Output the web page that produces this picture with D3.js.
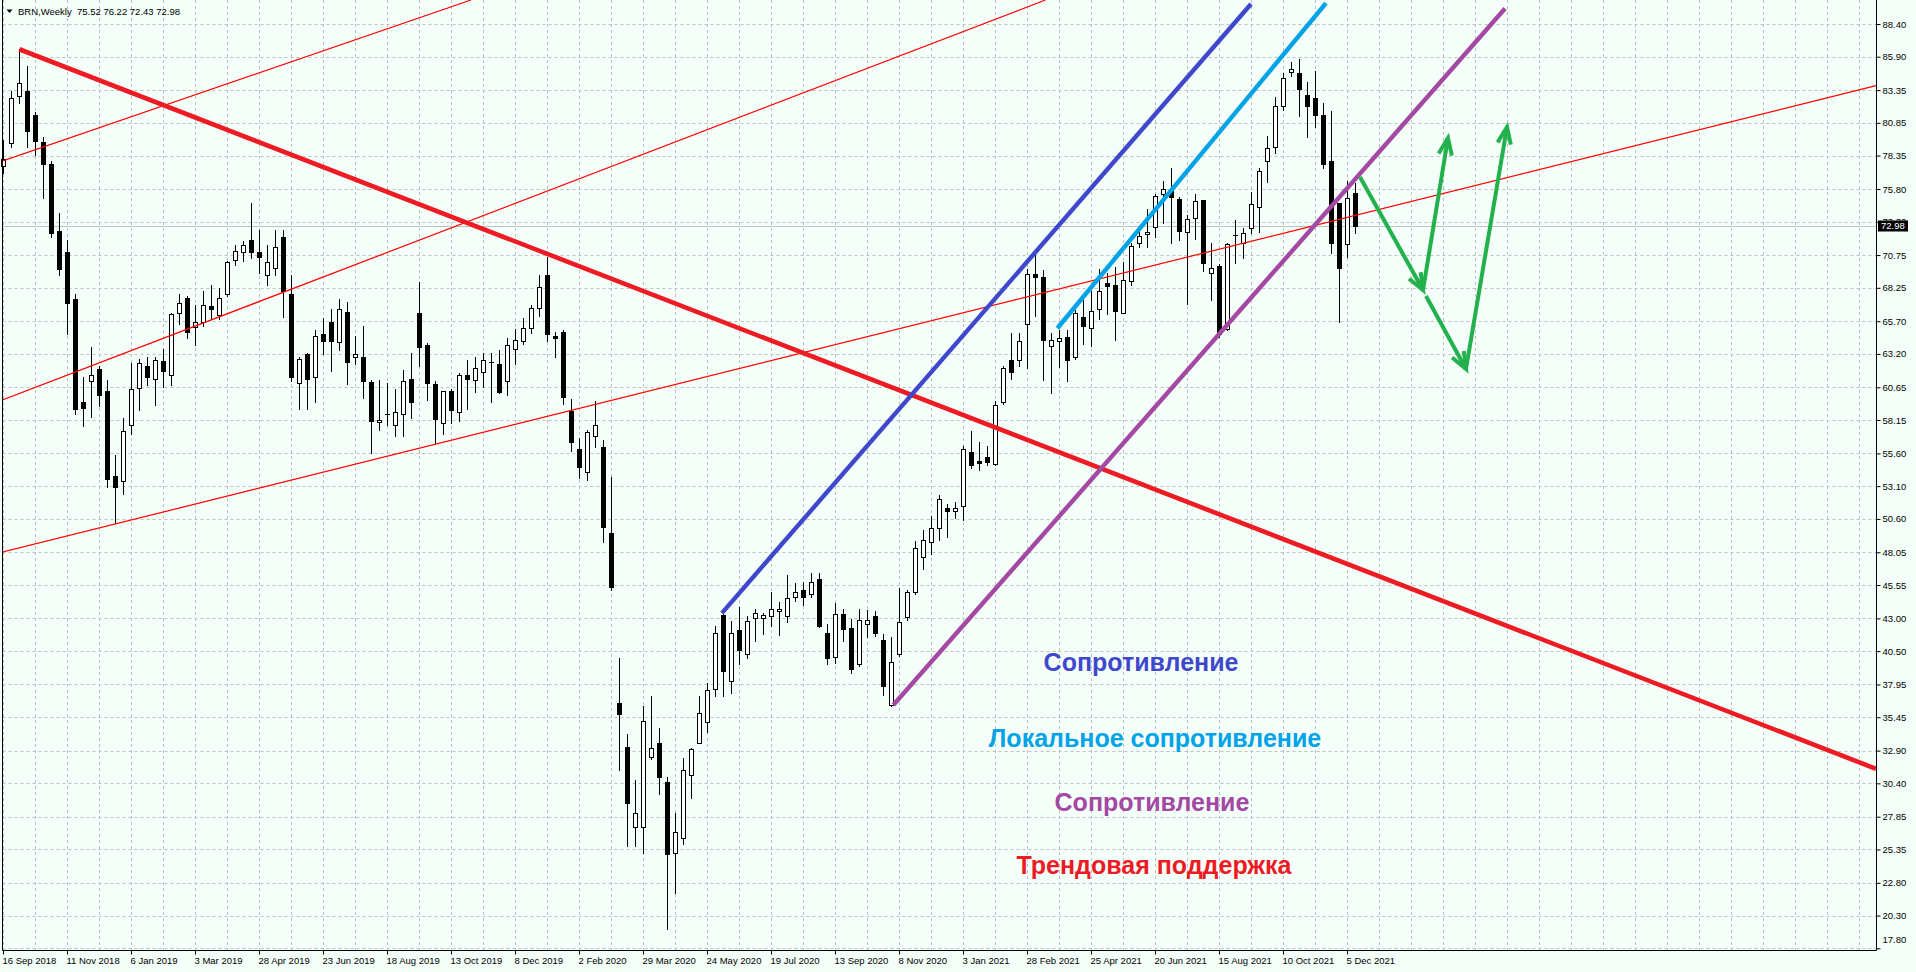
<!DOCTYPE html>
<html><head><meta charset="utf-8">
<script src="https://cdn.jsdelivr.net/npm/d3@7"></script>
<style>
html,body{margin:0;padding:0;background:#F5FFFA;overflow:hidden}
svg{display:block}
text{font-family:"Liberation Sans",Arial,sans-serif}
</style></head><body>
<svg id="chart" width="1916" height="972"></svg>
<script>
// ---------------- data ----------------
const symbolName = "BRN,Weekly";
const lastQuote = [75.52, 76.22, 72.43, 72.98];
const currentPrice = 72.98;

const opens = [77.55,79.30,82.90,83.30,81.45,79.36,77.70,72.60,71.00,67.40,
59.50,61.10,62.05,60.40,53.90,53.47,57.75,60.57,62.30,61.25,
62.65,61.57,66.30,67.45,65.25,65.60,66.85,66.15,67.75,70.40,
71.00,71.88,70.98,69.23,69.80,72.10,67.80,60.95,63.20,61.40,
64.70,65.60,64.10,66.40,63.00,62.95,61.05,58.00,58.60,57.80,
58.60,61.30,66.30,63.88,60.90,57.90,60.35,58.80,61.57,61.20,
61.80,62.60,62.40,61.10,63.55,64.20,65.15,66.70,69.20,64.55,
64.85,58.85,55.95,54.15,56.90,56.10,49.50,36.50,33.15,27.10,
27.05,32.40,33.47,30.50,25.05,26.20,31.00,33.50,35.10,37.60,
43.23,38.20,42.10,40.30,43.00,43.05,43.20,43.60,43.20,44.60,
45.20,44.90,46.00,41.85,40.05,43.30,42.27,39.50,42.60,43.15,
41.37,36.40,40.25,43.08,45.05,47.70,48.85,49.93,51.40,51.20,
51.60,55.70,55.00,55.30,54.80,59.55,62.70,62.70,65.45,69.30,
69.05,63.80,64.20,64.50,63.00,66.05,65.15,66.65,68.65,68.50,
66.35,68.75,71.70,72.35,72.88,75.40,75.65,75.05,72.50,73.60,
74.93,69.35,69.90,65.10,72.20,71.70,72.85,74.40,77.90,79.03,
82.13,84.70,84.63,82.98,82.72,81.45,77.94,74.70,71.57,75.52];

const highs = [79.54,83.30,86.47,85.20,81.70,79.80,77.90,74.00,71.90,67.75,
61.40,63.75,62.30,61.20,55.50,58.30,62.50,62.85,63.00,63.00,
63.60,66.30,67.75,67.60,66.90,68.00,68.45,68.20,70.30,71.50,
71.80,74.75,72.66,71.50,72.66,72.66,69.20,63.00,63.30,65.00,
65.95,66.60,67.40,67.20,64.60,65.30,61.20,61.20,61.00,60.55,
62.00,63.25,68.70,64.00,61.10,60.40,60.50,61.75,62.70,63.00,
63.25,63.25,63.50,64.40,65.10,65.97,66.97,69.20,70.60,64.90,
65.00,59.75,56.75,57.40,59.60,56.60,53.80,39.95,34.15,30.65,
36.30,37.10,34.60,30.86,28.10,32.30,33.10,37.10,38.10,42.45,
43.40,42.80,43.90,43.20,43.75,43.40,45.05,44.25,46.30,45.70,
45.80,46.45,46.50,42.55,44.20,43.70,42.95,43.70,43.65,43.55,
41.80,41.60,45.30,45.20,48.90,49.75,50.85,52.40,51.70,51.90,
56.15,57.30,56.50,56.20,59.60,62.30,64.80,64.80,69.70,71.10,
69.60,64.80,65.00,65.00,66.55,67.30,68.00,69.65,69.35,69.85,
70.25,71.65,72.90,74.30,75.40,76.40,77.40,75.20,73.80,75.45,
74.95,71.65,70.10,71.70,73.40,72.80,75.60,77.40,79.85,82.85,
84.63,85.50,85.70,83.99,84.83,82.34,81.78,74.75,76.43,76.22];

const lows = [77.02,79.00,82.40,79.00,78.40,75.10,72.10,69.20,64.70,58.60,
57.70,58.40,59.20,53.00,50.30,52.50,57.10,58.90,60.80,59.30,
60.70,60.80,65.50,64.40,63.90,65.30,65.90,65.85,67.60,70.00,
70.30,70.50,69.40,68.50,69.20,66.00,61.10,59.00,59.00,59.50,
63.20,61.90,63.50,60.90,62.40,59.80,55.65,57.40,57.80,56.90,
56.90,58.30,62.30,59.70,56.40,57.10,57.90,58.05,59.00,60.30,
60.70,59.55,60.20,60.10,62.40,63.95,64.80,66.10,64.20,63.00,
59.40,55.80,53.75,53.60,56.10,48.85,45.20,31.40,25.64,25.64,
25.10,32.25,29.55,19.30,22.00,25.75,29.30,33.45,34.30,37.10,
37.10,37.30,39.55,39.95,41.30,41.80,42.40,41.70,42.70,44.30,
44.05,44.65,42.35,39.50,39.60,41.30,38.80,39.40,41.60,41.65,
37.15,36.30,40.10,42.90,44.90,46.80,47.95,49.00,49.20,50.70,
50.50,54.50,54.30,54.75,54.70,59.40,61.30,62.30,62.15,66.10,
61.20,60.25,62.20,61.10,62.85,63.95,63.80,65.85,66.25,64.30,
66.30,68.50,71.35,71.40,72.15,73.20,71.65,71.90,67.00,72.00,
69.50,67.30,64.50,65.00,70.15,70.50,72.40,72.50,76.30,78.53,
81.80,84.40,81.37,79.75,80.56,77.38,70.90,65.60,70.63,72.43];

const closes = [78.10,82.75,83.90,80.20,79.50,77.68,72.46,69.67,67.07,59.00,
59.10,61.57,60.10,53.67,53.00,57.31,60.52,62.50,61.40,62.70,
61.90,66.23,67.07,64.85,65.66,66.90,66.60,67.47,70.20,71.08,
71.50,71.00,70.58,70.20,71.34,68.00,61.46,62.85,61.30,64.57,
64.20,64.20,66.60,62.60,63.20,61.10,58.05,58.15,58.50,58.75,
61.10,59.50,63.70,61.00,58.20,60.35,58.90,61.60,61.30,62.10,
62.70,62.50,60.30,63.85,64.23,65.15,66.70,68.33,64.70,64.40,
59.90,56.50,54.55,57.20,57.75,50.00,45.40,35.70,28.87,28.15,
35.13,33.07,30.86,25.00,26.70,31.40,33.00,35.75,37.50,41.87,
39.00,41.87,40.55,42.80,43.40,43.28,43.75,43.75,44.55,45.05,
44.65,45.80,42.40,40.00,43.30,42.20,39.15,42.90,42.90,41.85,
37.85,39.70,42.70,45.05,48.35,48.95,49.90,52.15,51.20,51.40,
55.95,54.75,54.90,54.95,59.30,62.10,61.80,64.15,69.30,69.10,
64.30,64.25,64.40,62.70,66.30,65.30,66.50,68.00,68.40,66.50,
68.85,71.45,72.20,72.55,75.25,75.80,75.15,72.60,73.50,74.90,
70.15,69.80,64.75,71.60,72.30,72.45,74.65,77.20,78.93,82.13,
84.27,84.94,83.41,82.14,81.43,77.68,71.65,69.80,75.08,72.98];

const dateLabels = ["16 Sep 2018","11 Nov 2018","6 Jan 2019","3 Mar 2019","28 Apr 2019",
"23 Jun 2019","18 Aug 2019","13 Oct 2019","8 Dec 2019","2 Feb 2020","29 Mar 2020",
"24 May 2020","19 Jul 2020","13 Sep 2020","8 Nov 2020","3 Jan 2021","28 Feb 2021",
"25 Apr 2021","20 Jun 2021","15 Aug 2021","10 Oct 2021","5 Dec 2021"];
const dateLabelBars = d3.range(0, 170, 8);

const priceTicks = [88.40,85.90,83.35,80.85,78.35,75.80,73.30,70.75,68.25,65.70,63.20,
60.65,58.15,55.60,53.10,50.60,48.05,45.55,43.00,40.50,37.95,35.45,32.90,30.40,27.85,
25.35,22.80,20.30,17.80];

// drawn objects, as [bar index, price] anchor pairs
const trendSupportLine   = [[1.98, 86.47], [234.06, 31.51]];
const channelLineA       = [[-0.19, 77.93], [58.44, 90.23]];
const channelLineB       = [[-0.44, 59.61], [130.24, 90.23]];
const channelLineC       = [[-0.44, 48.02], [234.06, 83.69]];
const resistanceLine     = [[89.8, 43.40], [155.94, 89.93]];
const localResistLine    = [[131.73, 65.16], [165.31, 90.00]];
const resistanceLine2    = [[111.23, 36.38], [187.69, 89.58]];
const forecastArrows = [
  [[169.56, 76.71], [177.44, 68.08]],
  [[177.44, 68.08], [180.56, 79.69]],
  [[177.81, 67.62], [182.81, 62.05]],
  [[182.81, 62.05], [187.94, 80.53]]
];
const noteTexts = ["Сопротивление", "Локальное сопротивление", "Сопротивление", "Трендовая поддержка"];
const notePositions = [[142.19, 39.0], [143.94, 33.21], [143.56, 28.29], [143.81, 23.51]];

// ---------------- layout / styles ----------------
const W = 1916, H = 972;
const plotL = 2.5, plotR = 1876.5, plotB = 950.5;
const BG = "#F5FFFA";
const GRID = "#C0C0C0";
const FONT = "9.5px";

const svg = d3.select("#chart");
svg.append("rect").attr("width", W).attr("height", H).attr("fill", BG);

const x = d3.scaleLinear().domain([0, 169]).range([3.5, 3.5 + 8 * 169]);
const y = d3.scaleLinear().domain([17.80, 88.40]).range([948.3, 24]);

// grid
const grid = svg.append("g").attr("stroke", GRID).attr("stroke-width", 1).attr("stroke-dasharray", "3,3");
const vBars = d3.range(0, 240, 4).filter(i => x(i) < plotR - 1);
grid.selectAll("line.v").data(vBars).join("line")
  .attr("x1", d => x(d)).attr("x2", d => x(d)).attr("y1", 0).attr("y2", plotB);
grid.selectAll("line.h").data(priceTicks).join("line")
  .attr("x1", plotL).attr("x2", plotR)
  .attr("y1", d => Math.round(y(d)) + 0.5).attr("y2", d => Math.round(y(d)) + 0.5);

// current price line
svg.append("line").attr("x1", plotL).attr("x2", plotR)
  .attr("y1", Math.round(y(currentPrice)) + 0.5).attr("y2", Math.round(y(currentPrice)) + 0.5)
  .attr("stroke", "#C0C0C0").attr("stroke-width", 1);

// candles
const bars = opens.map((o, i) => ({ i, o, h: highs[i], l: lows[i], c: closes[i] }));
const gC = svg.append("g");
gC.selectAll("line.wick").data(bars).join("line")
  .attr("x1", d => x(d.i)).attr("x2", d => x(d.i))
  .attr("y1", d => Math.round(y(d.h))).attr("y2", d => Math.round(y(d.l)) + 1)
  .attr("stroke", "#000").attr("stroke-width", 1);
bars.forEach(d => {
  const top = Math.round(y(Math.max(d.o, d.c)));
  const bot = Math.round(y(Math.min(d.o, d.c)));
  const cx = x(d.i);
  if (bot - top <= 1) {
    gC.append("line").attr("x1", cx - 2.5).attr("x2", cx + 2.5)
      .attr("y1", top + 0.5).attr("y2", top + 0.5).attr("stroke", "#000");
  } else if (d.c >= d.o) {
    gC.append("rect").attr("x", cx - 2).attr("y", top + 0.5).attr("width", 4).attr("height", bot - top)
      .attr("fill", "#fff").attr("stroke", "#000").attr("stroke-width", 1);
  } else {
    gC.append("rect").attr("x", cx - 2.5).attr("y", top).attr("width", 5).attr("height", bot - top + 1)
      .attr("fill", "#000");
  }
});

// drawn objects
svg.append("clipPath").attr("id", "plotClip").append("rect")
  .attr("x", plotL).attr("y", 0).attr("width", plotR - plotL).attr("height", plotB);
const gL = svg.append("g").attr("clip-path", "url(#plotClip)");
const seg = d3.line().x(p => x(p[0])).y(p => y(p[1]));
const lineDefs = [
  [channelLineA, "#FF0000", 1.2],
  [channelLineB, "#FF0000", 1.2],
  [channelLineC, "#FF0000", 1.2],
  [trendSupportLine, "#ED1C24", 4.6],
  [resistanceLine, "#3F48CC", 4.4],
  [localResistLine, "#00A2E8", 4.4],
  [resistanceLine2, "#A349A4", 4.4]
];
lineDefs.forEach(([pts, col, w]) => {
  gL.append("path").attr("d", seg(pts)).attr("fill", "none")
    .attr("stroke", col).attr("stroke-width", w).attr("stroke-linecap", "butt");
});

// forecast arrows
const GREEN = "#22B14C";
forecastArrows.forEach(pts => {
  gL.append("path").attr("d", seg(pts)).attr("fill", "none")
    .attr("stroke", GREEN).attr("stroke-width", 4).attr("stroke-linecap", "butt");
  const x0 = x(pts[0][0]), y0 = y(pts[0][1]), x1 = x(pts[1][0]), y1 = y(pts[1][1]);
  const ang = Math.atan2(y1 - y0, x1 - x0);
  const L = 18, a = 0.38;
  const p1 = [x1 - L * Math.cos(ang - a), y1 - L * Math.sin(ang - a)];
  const p2 = [x1 - L * Math.cos(ang + a), y1 - L * Math.sin(ang + a)];
  gL.append("path").attr("d", `M${p1[0]},${p1[1]}L${x1},${y1}L${p2[0]},${p2[1]}`)
    .attr("fill", "none").attr("stroke", GREEN).attr("stroke-width", 4)
    .attr("stroke-linejoin", "miter").attr("stroke-linecap", "butt");
});

// annotation texts
const noteColors = ["#3F48CC", "#00A2E8", "#A349A4", "#ED1C24"];
svg.append("g").selectAll("text").data(noteTexts).join("text")
  .attr("x", (d, k) => x(notePositions[k][0]))
  .attr("y", (d, k) => y(notePositions[k][1]))
  .attr("text-anchor", "middle")
  .style("font-size", "25px").style("font-weight", "bold")
  .attr("fill", (d, k) => noteColors[k])
  .text(d => d);

// borders
svg.append("path").attr("d", `M${plotL},0V${plotB}H${plotR}V0`)
  .attr("fill", "none").attr("stroke", "#000").attr("stroke-width", 1);

// right price axis
const yAxis = d3.axisRight(y).tickValues(priceTicks).tickSize(4).tickPadding(2)
  .tickFormat(d3.format(".2f"));
const gy = svg.append("g").attr("transform", `translate(${plotR},0)`).call(yAxis);
gy.select(".domain").remove();
gy.selectAll("line").attr("stroke", "#000");
gy.selectAll("text").style("font-size", FONT).attr("fill", "#000");
gy.selectAll(".tick").filter(d => d === 17.80).select("text").attr("dy", "-0.6em");

// bottom time axis
const xAxis = d3.axisBottom(x).tickValues(dateLabelBars).tickSize(4).tickPadding(3).offset(0)
  .tickFormat((d, k) => dateLabels[k]);
const gx = svg.append("g").attr("transform", `translate(0,${plotB})`).call(xAxis);
gx.select(".domain").remove();
gx.selectAll("line").attr("stroke", "#000");
gx.selectAll("text").style("font-size", FONT).attr("fill", "#000")
  .attr("text-anchor", "start").attr("x", -1);

// current price tag
const py = y(currentPrice);
svg.append("rect").attr("x", 1878).attr("y", Math.round(py) - 5.5).attr("width", 30).attr("height", 11)
  .attr("fill", "#000");
svg.append("text").attr("x", 1881).attr("y", py + 3.5).style("font-size", FONT)
  .attr("fill", "#fff").text(currentPrice.toFixed(2));

// header
svg.append("path").attr("d", "M6.5,9.5L12.5,9.5L9.5,13Z").attr("fill", "#000");
svg.append("text").attr("x", 18).attr("y", 14.5).style("font-size", FONT).attr("fill", "#000")
  .text(symbolName);
svg.append("text").attr("x", 77).attr("y", 14.5).style("font-size", FONT).attr("fill", "#000")
  .text(lastQuote.map(v => v.toFixed(2)).join(" "));
</script>
</body></html>
